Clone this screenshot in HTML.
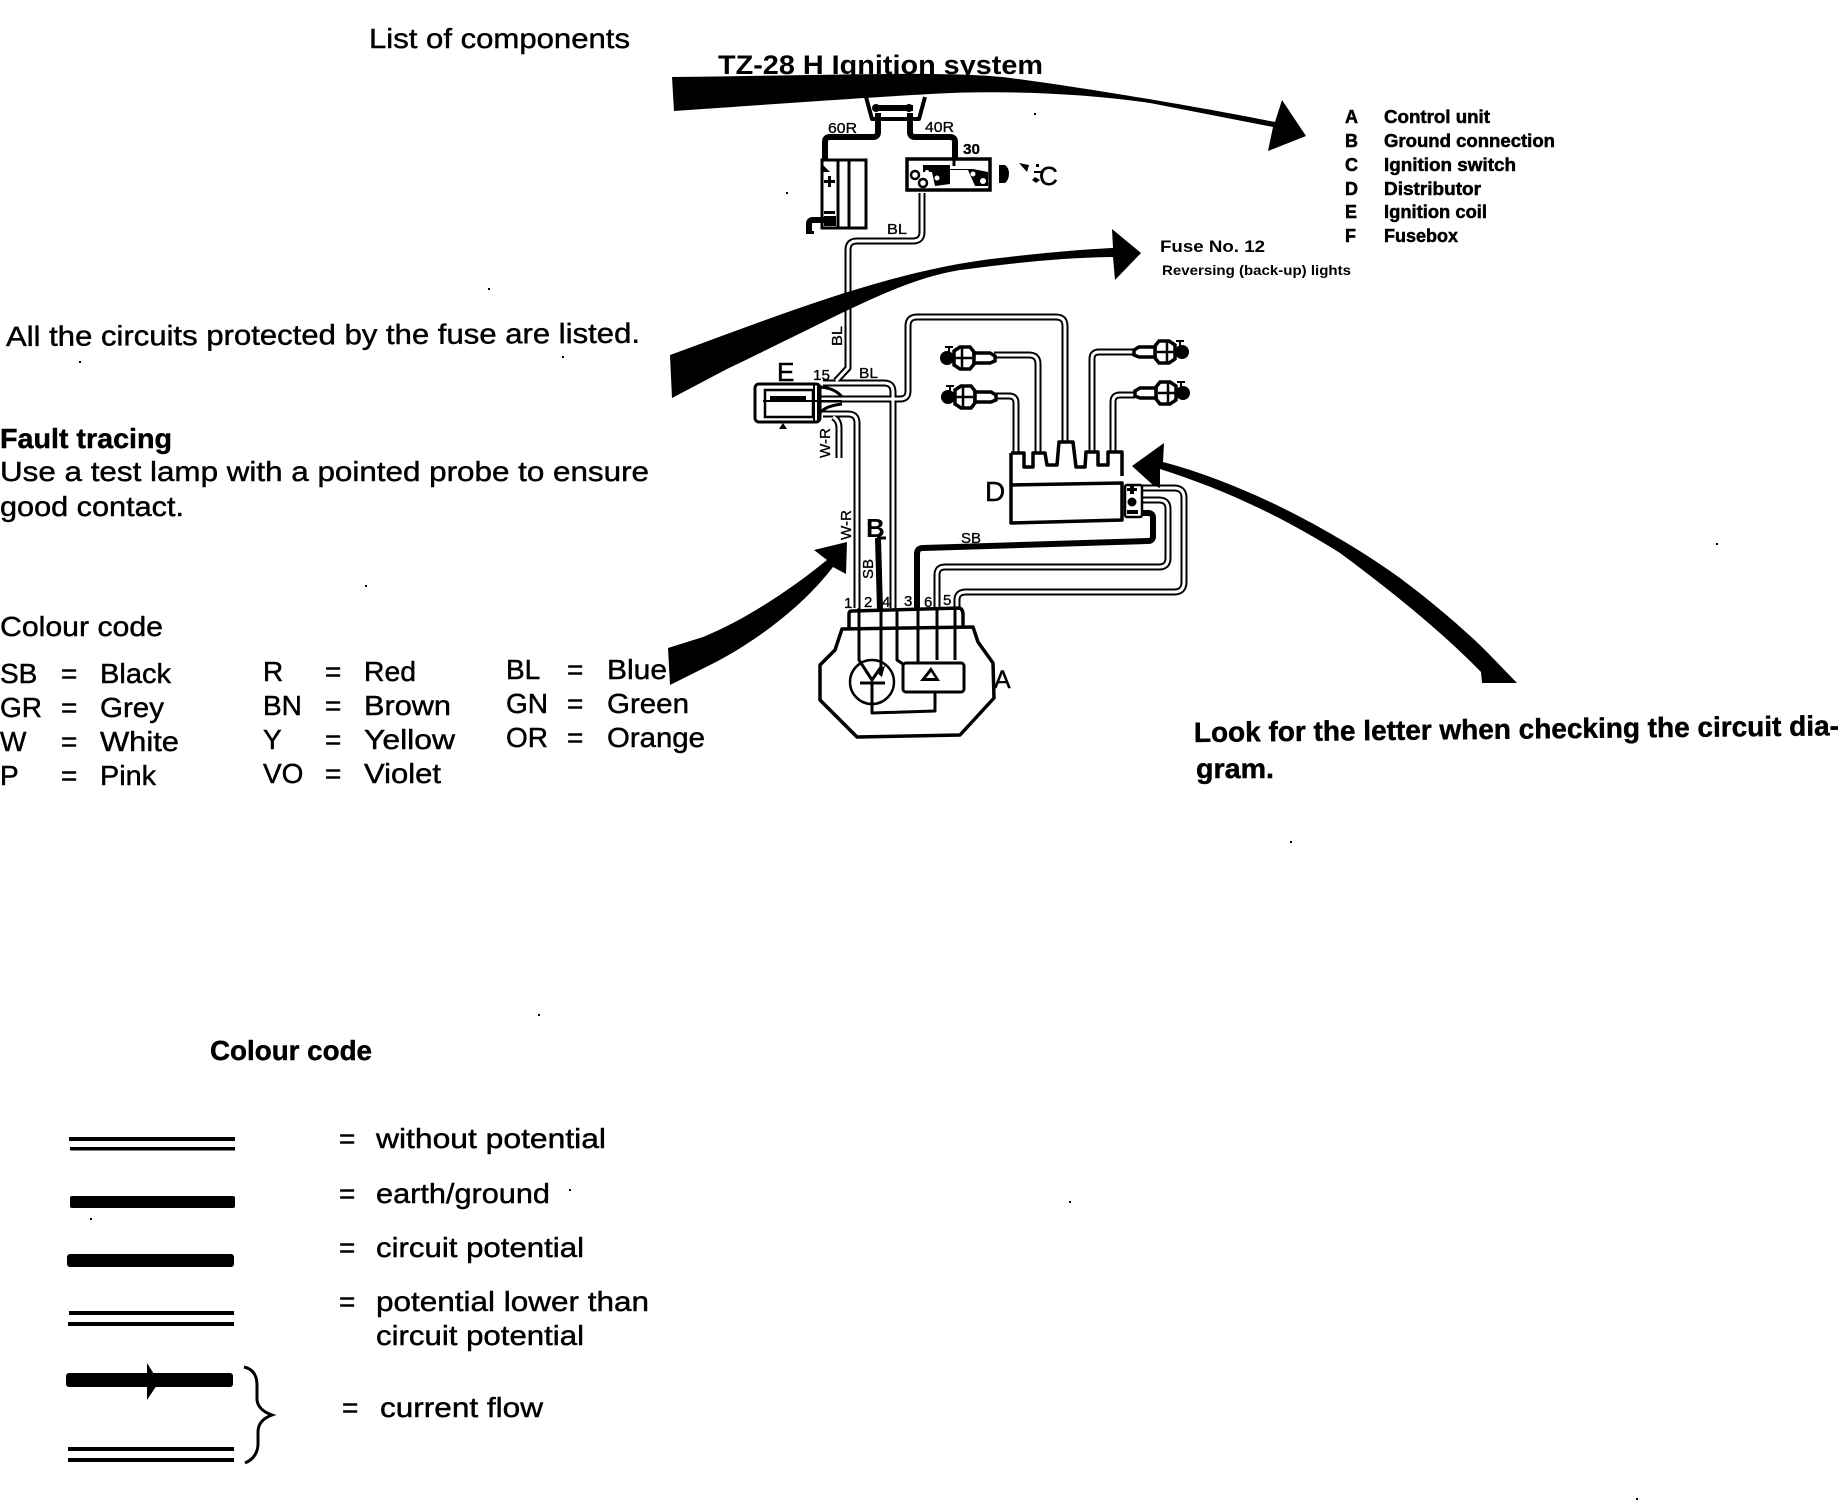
<!DOCTYPE html>
<html><head><meta charset="utf-8"><style>
html,body{margin:0;padding:0;background:#fff}
svg{display:block}
text{font-family:"Liberation Sans",sans-serif;fill:#000}
.o{fill:none;stroke:#000;stroke-width:7;stroke-linejoin:round}
.i{fill:none;stroke:#fff;stroke-width:3;stroke-linejoin:round}
.l{fill:none;stroke:#000;stroke-width:3;stroke-linejoin:round}
.t{fill:none;stroke:#000;stroke-width:6;stroke-linejoin:round}
.s{font-size:15px;stroke:#000;stroke-width:.3}
.m{font-size:28px;stroke:#000;stroke-width:.45}
.b{font-size:18px;font-weight:bold;stroke:#000;stroke-width:.5}
</style></head><body>
<svg width="1842" height="1504" viewBox="0 0 1842 1504" xmlns="http://www.w3.org/2000/svg">
<defs>
<g id="plug">
<ellipse cx="7" cy="0" rx="7" ry="7"/>
<path d="M9 -11V-5M5 -11H13" stroke="#000" stroke-width="2"/>
<path d="M14 -7L20 -11H30L34 -6V6L30 11H20L14 7Z" fill="#fff" stroke="#000" stroke-width="3.5"/>
<path d="M22 -10V10M15 0H32" stroke="#000" stroke-width="2.5"/>
<path d="M34 -5L50 -5L55 -2V3L50 5L34 5Z" fill="#fff" stroke="#000" stroke-width="3.5"/>
</g>
<path id="w1" d="M922 193V232Q922 241 913 241H857Q848 241 848 250V368L836 381"/>
<path id="w2" d="M823 383H884Q893 383 893 392V608"/>
<path id="w3" d="M820 399H900Q908 399 908 391V326Q908 317 917 317H1056Q1065 317 1065 326V442"/>
<path id="w4" d="M823 414H848Q857 414 857 423V608"/>
<path id="w5" d="M833 417Q839 420 839 428V458"/>
<path id="w6" d="M994 355H1029Q1038 355 1038 364V453"/>
<path id="w7" d="M995 396H1009Q1016 396 1016 403V453"/>
<path id="w8" d="M1135 352H1099Q1092 352 1092 359V452"/>
<path id="w9" d="M1135 395H1120Q1113 395 1113 402V452"/>
<path id="w10" d="M1142 488H1174Q1184 488 1184 498V582Q1184 592 1174 592H966Q957 592 957 600V610"/>
<path id="w11" d="M1142 500H1159Q1168 500 1168 509V558Q1168 567 1159 567H945Q937 567 937 575V610"/>
</defs>

<!-- wires -->
<g class="o"><use href="#w1"/><use href="#w2"/><use href="#w3"/><use href="#w4"/><use href="#w5"/><use href="#w6"/><use href="#w7"/><use href="#w8"/><use href="#w9"/><use href="#w10"/><use href="#w11"/></g>
<g class="i"><use href="#w1"/><use href="#w2"/><use href="#w3"/><use href="#w4"/><use href="#w5"/><use href="#w6"/><use href="#w7"/><use href="#w8"/><use href="#w9"/><use href="#w10"/><use href="#w11"/></g>

<!-- thick wires -->
<path class="t" d="M878 113V132Q878 137 873 137H830Q825 137 825 142V164"/>
<path class="t" d="M910 113V132Q910 137 915 137H950Q955 137 955 142V165"/>
<path class="t" d="M1142 513H1148Q1153 513 1153 518V536Q1153 541 1148 541L923 548Q917 548 917 554V610"/>
<path class="t" d="M878 538L880 610"/>
<path class="l" d="M877 538H886"/>

<!-- fuse box -->
<path class="l" stroke-width="4" style="stroke-width:4" d="M866 97L872 119H919L925 97"/>
<path d="M873 105H913V111H873Z"/>
<circle cx="876" cy="108" r="4"/><circle cx="909" cy="108" r="4"/>

<!-- battery -->
<rect x="822" y="160" width="44" height="68" fill="#fff" stroke="#000" stroke-width="3"/>
<path class="l" d="M838 160V228M849 160V228"/>
<path d="M821 163L830 172H821Z"/>
<path d="M824 180H835V183H824ZM828 176H831V187H828ZM824 211H835V214H824Z"/>
<path class="t" d="M809 233V224Q809 220 813 220H832"/>
<path d="M806 231H814V234H806ZM824 216H836V226H824Z"/>

<!-- ignition switch -->
<rect x="907" y="159" width="83" height="31" fill="#fff" stroke="#000" stroke-width="3.5"/>
<path d="M923 165H950V169H973L988 172V186L975 186L968 170H950V184L935 186L932 172L923 172Z"/>
<path class="l" d="M954 150V166"/>
<circle cx="915" cy="175" r="4" fill="#fff" stroke="#000" stroke-width="2.5"/>
<circle cx="923" cy="183" r="4" fill="#fff" stroke="#000" stroke-width="2.5"/>
<circle cx="927" cy="172" r="2" fill="#fff"/><circle cx="937" cy="178" r="2.5" fill="#fff"/><circle cx="973" cy="174" r="2.5" fill="#fff"/><circle cx="983" cy="181" r="3" fill="#fff"/>
<path d="M999 165H1005Q1009 168 1009 173Q1009 180 1005 183H999Z"/>
<path d="M1019 163L1029 165L1027 172ZM1036 164H1039V167H1036ZM1035 177L1040 180L1036 183L1032 180ZM1034 171H1042V173H1034Z"/>

<!-- coil -->
<rect x="755" y="384" width="65" height="38" rx="4" fill="#fff" stroke="#000" stroke-width="3"/>
<rect x="765" y="390" width="48" height="27" fill="#fff" stroke="#000" stroke-width="2.5"/>
<path d="M763 400H842V402H763Z"/>
<path d="M770 396H806V400H770Z"/>
<path class="l" style="stroke-width:2" d="M814 383V421M818 383V421"/>
<path d="M779 429H787L783 423Z"/>
<path class="l" d="M820 387Q835 388 842 397M820 413Q825 406 842 404"/>

<!-- distributor -->
<path class="l" style="stroke-width:3.5" d="M1011 453H1024V467H1033V453H1045L1047 465H1057L1059 442H1073L1076 467H1085L1086 452H1098V465H1108V452H1122V476"/>
<path class="l" style="stroke-width:3.5" d="M1011 453V523L1122 520V483L1011 485"/>
<rect x="1125" y="485" width="17" height="32" rx="2" fill="#fff" stroke="#000" stroke-width="2.5"/>
<path d="M1127 488H1137V491H1127ZM1130 485H1134V494H1130ZM1127 510H1138V514H1127Z"/>
<circle cx="1132" cy="502" r="4.5"/>

<!-- plugs -->
<use href="#plug" transform="translate(940,358)"/>
<use href="#plug" transform="translate(941,397)"/>
<use href="#plug" transform="translate(1189,352) scale(-1,1)"/>
<use href="#plug" transform="translate(1190,393) scale(-1,1)"/>

<!-- control unit -->
<path class="l" style="stroke-width:3.5" d="M842 629L973 627L978 642L993 663L994 698L960 735L857 737L820 700V665L835 650Z"/>
<path class="l" style="stroke-width:3.5" d="M849 628V614Q849 611 852 611L960 608Q963 610 963 614V627"/>
<path class="l" d="M859 608V660L872 680L881 667V608M897 608V660L903 664M918 608V663M937 608V660M955 608V660"/>
<circle cx="872" cy="682" r="22" fill="none" stroke="#000" stroke-width="2.5"/>
<path d="M877 673L885 665L882 677Z"/>
<path class="l" d="M860 683H885M872 683V713L935 711V692"/>
<rect x="903" y="663" width="61" height="29" rx="3" fill="#fff" stroke="#000" stroke-width="3"/>
<path d="M920 681L931 667L940 681Z"/><path d="M926 678L931 672L935 678Z" fill="#fff"/>

<!-- arrows -->
<path d="M672 77C800 76 950 70 1010 78C1080 87 1200 107 1275 122L1282 100L1306 136L1268 151L1273 127L1150 103C1080 93 1000 90 930 94C860 98 760 105 674 111Z"/>
<path d="M670 355C780 315 890 270 1000 258C1050 252 1090 249 1113 248L1112 229L1141 253L1115 280L1113 257C1050 258 1000 265 960 270C900 280 850 310 727 369L672 398Z"/>
<path d="M668 648L703 637C745 620 790 590 827 560L814 550L847 542L846 574L833 567C800 610 750 645 710 665L670 685Z"/>
<path d="M1132 466L1164 443L1163 462C1250 485 1340 535 1400 578C1440 608 1470 635 1487 652L1517 683H1482L1481 672C1440 630 1390 590 1340 553C1280 515 1220 488 1160 469L1160 488L1153 485Z"/>

<!-- diagram labels -->
<text x="718" y="74" font-size="27" font-weight="bold" textLength="325" lengthAdjust="spacingAndGlyphs">TZ-28 H Ignition system</text>
<text class="s" x="828" y="133" textLength="29" lengthAdjust="spacingAndGlyphs">60R</text>
<text class="s" x="925" y="132" textLength="29" lengthAdjust="spacingAndGlyphs">40R</text>
<text class="s" x="963" y="154" textLength="17" lengthAdjust="spacingAndGlyphs" font-weight="bold">30</text>
<text class="s" x="887" y="234" textLength="20" lengthAdjust="spacingAndGlyphs">BL</text>
<text x="1039" y="185" font-size="26" stroke="#000" stroke-width=".5">C</text>
<text x="777" y="381" font-size="26" stroke="#000" stroke-width=".5">E</text>
<text class="s" x="813" y="380" textLength="17" lengthAdjust="spacingAndGlyphs">15</text>
<text class="s" x="859" y="378" textLength="19" lengthAdjust="spacingAndGlyphs">BL</text>
<text class="s" transform="translate(842,346) rotate(-90)" textLength="20" lengthAdjust="spacingAndGlyphs">BL</text>
<text class="s" transform="translate(830,458) rotate(-90)" textLength="30" lengthAdjust="spacingAndGlyphs">W-R</text>
<text class="s" transform="translate(851,540) rotate(-90)" textLength="30" lengthAdjust="spacingAndGlyphs">W-R</text>
<text class="s" transform="translate(873,579) rotate(-90)" textLength="20" lengthAdjust="spacingAndGlyphs">SB</text>
<text class="s" x="961" y="543" textLength="20" lengthAdjust="spacingAndGlyphs">SB</text>
<text x="985" y="501" font-size="28" stroke="#000" stroke-width=".4">D</text>
<text x="866" y="537" font-size="26" font-weight="bold">B</text>
<text class="s" x="844" y="608">1</text>
<text class="s" x="864" y="607">2</text>
<text class="s" x="882" y="607">4</text>
<text class="s" x="904" y="606">3</text>
<text class="s" x="924" y="607">6</text>
<text class="s" x="943" y="605">5</text>
<text x="994" y="688" font-size="25" stroke="#000" stroke-width=".4">A</text>

<!-- component list -->
<g>
<text x="1345" y="123" class="b">A</text><text x="1384" y="123" class="b" textLength="106" lengthAdjust="spacingAndGlyphs">Control unit</text>
<text x="1345" y="147" class="b">B</text><text x="1384" y="147" class="b" textLength="171" lengthAdjust="spacingAndGlyphs">Ground connection</text>
<text x="1345" y="171" class="b">C</text><text x="1384" y="171" class="b" textLength="132" lengthAdjust="spacingAndGlyphs">Ignition switch</text>
<text x="1345" y="195" class="b">D</text><text x="1384" y="195" class="b" textLength="97" lengthAdjust="spacingAndGlyphs">Distributor</text>
<text x="1345" y="218" class="b">E</text><text x="1384" y="218" class="b" textLength="103" lengthAdjust="spacingAndGlyphs">Ignition coil</text>
<text x="1345" y="242" class="b">F</text><text x="1384" y="242" class="b" textLength="74" lengthAdjust="spacingAndGlyphs">Fusebox</text>
</g>
<text x="1160" y="252" font-size="17" font-weight="bold" textLength="105" lengthAdjust="spacingAndGlyphs">Fuse No. 12</text>
<text x="1162" y="275" font-size="14" font-weight="bold" textLength="189" lengthAdjust="spacingAndGlyphs">Reversing (back-up) lights</text>

<!-- left text -->
<text class="m" x="369" y="48" textLength="261" lengthAdjust="spacingAndGlyphs">List of components</text>
<text class="m" x="6" y="346" textLength="634" lengthAdjust="spacingAndGlyphs" transform="rotate(-0.3 6 346)">All the circuits protected by the fuse are listed.</text>
<text class="m" x="0" y="448" font-weight="bold" textLength="172" lengthAdjust="spacingAndGlyphs">Fault tracing</text>
<text class="m" x="0" y="481" textLength="649" lengthAdjust="spacingAndGlyphs">Use a test lamp with a pointed probe to ensure</text>
<text class="m" x="0" y="516" textLength="184" lengthAdjust="spacingAndGlyphs">good contact.</text>
<text class="m" x="0" y="636" textLength="163" lengthAdjust="spacingAndGlyphs">Colour code</text>

<text class="m" x="0" y="683">SB</text><text class="m" x="61" y="683">=</text><text class="m" x="100" y="683" textLength="71" lengthAdjust="spacingAndGlyphs">Black</text>
<text class="m" x="0" y="717">GR</text><text class="m" x="61" y="717">=</text><text class="m" x="100" y="717" textLength="64" lengthAdjust="spacingAndGlyphs">Grey</text>
<text class="m" x="0" y="751">W</text><text class="m" x="61" y="751">=</text><text class="m" x="100" y="751" textLength="79" lengthAdjust="spacingAndGlyphs">White</text>
<text class="m" x="0" y="785">P</text><text class="m" x="61" y="785">=</text><text class="m" x="100" y="785" textLength="56" lengthAdjust="spacingAndGlyphs">Pink</text>

<text class="m" x="263" y="681">R</text><text class="m" x="325" y="681">=</text><text class="m" x="364" y="681" textLength="52" lengthAdjust="spacingAndGlyphs">Red</text>
<text class="m" x="263" y="715">BN</text><text class="m" x="325" y="715">=</text><text class="m" x="364" y="715" textLength="87" lengthAdjust="spacingAndGlyphs">Brown</text>
<text class="m" x="263" y="749">Y</text><text class="m" x="325" y="749">=</text><text class="m" x="364" y="749" textLength="91" lengthAdjust="spacingAndGlyphs">Yellow</text>
<text class="m" x="263" y="783">VO</text><text class="m" x="325" y="783">=</text><text class="m" x="364" y="783" textLength="77" lengthAdjust="spacingAndGlyphs">Violet</text>

<text class="m" x="506" y="679">BL</text><text class="m" x="567" y="679">=</text><text class="m" x="607" y="679" textLength="60" lengthAdjust="spacingAndGlyphs">Blue</text>
<text class="m" x="506" y="713">GN</text><text class="m" x="567" y="713">=</text><text class="m" x="607" y="713" textLength="82" lengthAdjust="spacingAndGlyphs">Green</text>
<text class="m" x="506" y="747">OR</text><text class="m" x="567" y="747">=</text><text class="m" x="607" y="747" textLength="98" lengthAdjust="spacingAndGlyphs">Orange</text>

<text class="m" x="1194" y="742" font-weight="bold" textLength="645" lengthAdjust="spacingAndGlyphs" transform="rotate(-0.6 1194 742)">Look for the letter when checking the circuit dia-</text>
<text class="m" x="1196" y="778" font-weight="bold" textLength="78" lengthAdjust="spacingAndGlyphs">gram.</text>

<!-- bottom legend -->
<text class="m" x="210" y="1060" font-weight="bold" textLength="162" lengthAdjust="spacingAndGlyphs">Colour code</text>
<rect x="69" y="1137" width="166" height="4"/><rect x="70" y="1147" width="165" height="3.5"/>
<rect x="70" y="1196" width="165" height="12" rx="2"/>
<rect x="67" y="1254" width="167" height="13" rx="3"/>
<rect x="69" y="1311" width="165" height="4"/><rect x="68" y="1322" width="166" height="4"/>
<rect x="66" y="1373" width="167" height="14" rx="3"/>
<path d="M147 1363L159 1382L147 1400Z"/>
<rect x="68" y="1447" width="166" height="4"/><rect x="68" y="1458" width="166" height="4"/>
<path fill="none" stroke="#000" stroke-width="3" d="M244 1367Q257 1370 257 1385V1400Q258 1410 272 1415Q258 1420 258 1432V1445Q257 1458 245 1463"/>

<text class="m" x="339" y="1148">=</text><text class="m" x="376" y="1148" textLength="230" lengthAdjust="spacingAndGlyphs">without potential</text>
<text class="m" x="339" y="1203">=</text><text class="m" x="376" y="1203" textLength="174" lengthAdjust="spacingAndGlyphs">earth/ground</text>
<text class="m" x="339" y="1257">=</text><text class="m" x="376" y="1257" textLength="208" lengthAdjust="spacingAndGlyphs">circuit potential</text>
<text class="m" x="339" y="1311">=</text><text class="m" x="376" y="1311" textLength="273" lengthAdjust="spacingAndGlyphs">potential lower than</text>
<text class="m" x="376" y="1345" textLength="208" lengthAdjust="spacingAndGlyphs">circuit potential</text>
<text class="m" x="342" y="1417">=</text><text class="m" x="380" y="1417" textLength="163" lengthAdjust="spacingAndGlyphs">current flow</text>

<!-- specks -->
<g>
<rect x="1290" y="841" width="2" height="2"/><rect x="1069" y="1201" width="2" height="2"/><rect x="538" y="1014" width="2" height="2"/><rect x="1636" y="1498" width="2" height="2"/><rect x="90" y="1218" width="2" height="2"/><rect x="1716" y="543" width="2" height="2"/><rect x="569" y="1189" width="2" height="2"/><rect x="365" y="585" width="2" height="2"/><rect x="488" y="288" width="2" height="2"/><rect x="562" y="356" width="2" height="2"/><rect x="79" y="361" width="2" height="2"/><rect x="1034" y="113" width="2" height="2"/><rect x="786" y="192" width="2" height="2"/>
</g>
</svg>
</body></html>
